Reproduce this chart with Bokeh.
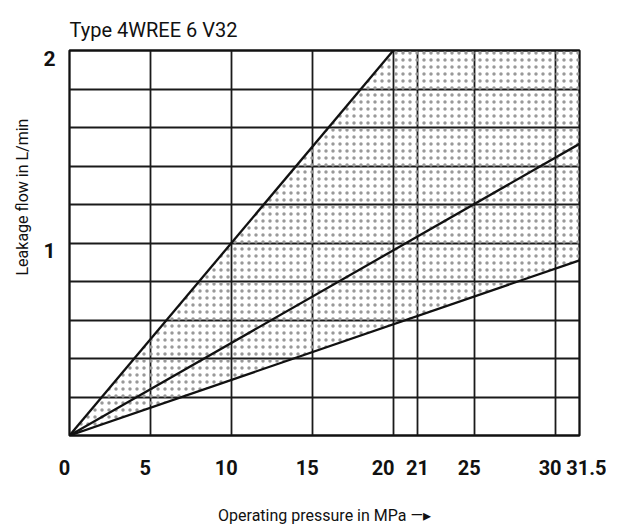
from bokeh.plotting import figure
from bokeh.models import FixedTicker, Range1d, Title, LinearAxis
from bokeh.embed import file_html
from bokeh.resources import INLINE

# ---- data ----
title_text = "Type 4WREE 6 V32"
x_title = "Operating pressure in MPa \u2014\u25b8"
y_title = "Leakage flow in L/min"

# tick labels (x) and where the reference draws their grid lines
x_tick_labels = ["0", "5", "10", "15", "20", "21", "25", "30", "31.5"]
x_tick_pos = [0, 5, 10, 15, 20, 21.5, 25, 30, 31.5]
y_tick_labels = ["1", "2"]
y_tick_pos = [1, 2]
y_grid_pos = [0.2, 0.4, 0.6, 0.8, 1.0, 1.2, 1.4, 1.6, 1.8]

x_max = 31.5
y_max = 2.0

# characteristic lines: pressure (MPa) -> leakage flow (L/min)
upper_p = [0, 20]
upper_q = [0, 2.0]
middle_p = [0, 31.5]
middle_q = [0, 1.515]
lower_p = [0, 31.5]
lower_q = [0, 0.91]

# shaded band between upper and lower characteristic, capped at y_max
band_p = upper_p + [x_max] + lower_p[::-1]
band_q = upper_q + [y_max] + lower_q[::-1]

FONT = "Roboto"
INK = "#111111"

# label placement padding (style only: nudges the printed labels like the reference)
EN, EM = "\u2002", "\u2003"
x_label_pad = {"0": ("", EN), "5": ("", EN), "10": ("", EN), "15": ("", EN),
               "20": ("", EM), "21": ("", ""), "25": ("", EN), "30": ("", EN),
               "31.5": (EM, "")}
Y_LABEL_DROP = 0.04   # y tick labels sit slightly below their grid lines (style)

p = figure(frame_width=510, frame_height=385,
           min_border_left=69, min_border_top=50, min_border_right=27, min_border_bottom=77,
           x_range=Range1d(0, x_max), y_range=Range1d(0, y_max),
           output_backend="svg", toolbar_location=None,
           background_fill_color="white", border_fill_color="white",
           y_axis_location=None)

p.title.text = title_text
p.title.text_font = FONT
p.title.text_font_size = "20px"
p.title.text_font_style = "normal"
p.title.text_color = INK
p.title.align = "left"
p.title.standoff = 18

# hatched band
p.patch(band_p, band_q, fill_alpha=0, line_color=None,
        hatch_pattern="dot", hatch_scale=7, hatch_weight=1.5, hatch_color="#999999")

# characteristic lines
for xs, ys in ((upper_p, upper_q), (middle_p, middle_q), (lower_p, lower_q)):
    p.line(xs, ys, line_color=INK, line_width=2.3)

# grids
p.xgrid.ticker = FixedTicker(ticks=x_tick_pos)
p.ygrid.ticker = FixedTicker(ticks=y_grid_pos)
for g in (p.xgrid, p.ygrid):
    g.grid_line_color = "#1a1a1a"
    g.grid_line_width = 1.8
    g.grid_line_alpha = 1.0

p.outline_line_color = INK
p.outline_line_width = 2.3
p.outline_line_alpha = 1.0

# x axis
p.xaxis.ticker = FixedTicker(ticks=x_tick_pos)
p.xaxis.major_label_overrides = {
    pos: x_label_pad[lab][0] + lab + x_label_pad[lab][1]
    for pos, lab in zip(x_tick_pos, x_tick_labels)}
p.xaxis.axis_line_color = None
p.xaxis.major_tick_line_color = None
p.xaxis.minor_tick_line_color = None
p.xaxis.major_label_text_font = FONT
p.xaxis.major_label_text_font_size = "20px"
p.xaxis.major_label_text_font_style = "bold"
p.xaxis.major_label_text_color = INK
p.xaxis.major_label_standoff = 14

p.xaxis.axis_label = x_title
p.xaxis.axis_label_text_font = FONT
p.xaxis.axis_label_text_font_size = "16px"
p.xaxis.axis_label_text_font_style = "normal"
p.xaxis.axis_label_text_color = INK
p.xaxis.axis_label_standoff = 23

# y axis on a slightly shifted range so the labels sit a little below their lines
p.extra_y_ranges = {"ylab": Range1d(Y_LABEL_DROP, y_max + Y_LABEL_DROP)}
yax = LinearAxis(y_range_name="ylab", ticker=FixedTicker(ticks=y_tick_pos),
                 major_label_overrides={pos: lab for pos, lab in zip(y_tick_pos, y_tick_labels)},
                 axis_line_color=None, major_tick_line_color=None, minor_tick_line_color=None,
                 major_label_text_font=FONT, major_label_text_font_size="21px",
                 major_label_text_font_style="bold", major_label_text_color=INK,
                 major_label_standoff=8)
p.add_layout(yax, "left")

p.add_layout(Title(text=y_title, align="left", offset=160,
                   text_font=FONT, text_font_size="16px", text_font_style="normal",
                   text_color=INK, standoff=17), "left")

open("out.html", "w").write(file_html(p, INLINE))
